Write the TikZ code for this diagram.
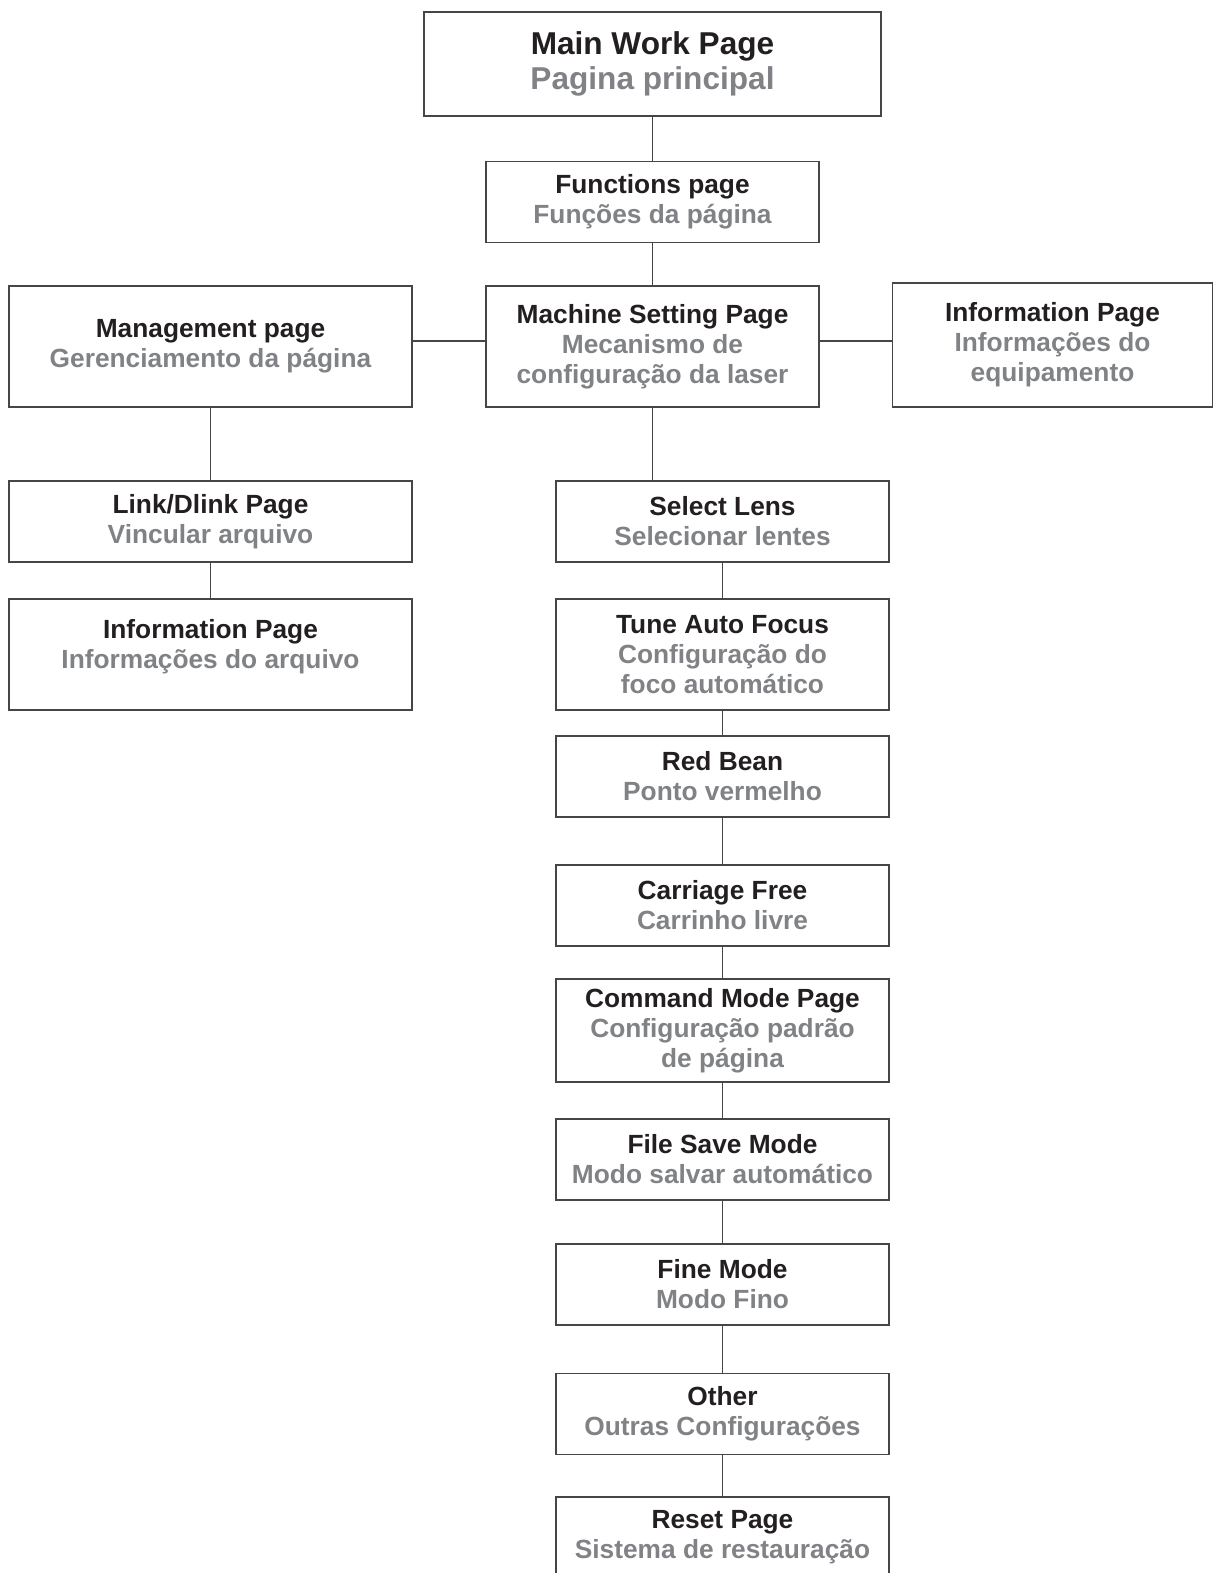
\documentclass[tikz,border=0pt]{standalone}
\usepackage{fontspec}
\setmainfont{Liberation Sans}
\definecolor{inkblack}{RGB}{35,31,32}
\definecolor{subgray}{RGB}{128,130,133}
\definecolor{linegray}{RGB}{70,70,72}
\newcommand{\gr}[1]{\textcolor{subgray}{#1}}

\begin{document}
\begin{tikzpicture}[
  x=0.5pt, y=-0.5pt,
  every node/.style={draw=linegray, line width=0.75pt, align=center, inner sep=0pt, text=inkblack, font=\fontsize{13.15}{15}\selectfont\bfseries},
  narrow/.style={minimum width=166.5pt},
  wide/.style={minimum width=201.5pt},
  single/.style={minimum height=40.5pt},
  tall/.style={minimum height=55.5pt},
  link/.style={draw=linegray, line width=0.75pt}
]
\useasboundingbox (0,0) rectangle (1214,1573);

% top
\node[minimum width=228.5pt, minimum height=52pt, font=\fontsize{15.8}{17.5}\selectfont\bfseries] (main) at (652.5,64) {Main Work Page\\\gr{Pagina principal}};
\node[narrow, single] (func) at (652.5,202) {Functions page\\\gr{Funções da página}};

% second row
\node[wide, minimum height=60.5pt] (mgmt) at (210.5,346.5) {Management page\\\gr{Gerenciamento da página}};
\node[narrow, minimum height=60.5pt] (mach) at (652.5,346.5) {Machine Setting Page\\\gr{Mecanismo de}\\\gr{configuração da laser}};
\node[minimum width=160pt, minimum height=62pt] (infoR) at (1052.5,345) {Information Page\\\gr{Informações do}\\\gr{equipamento}};

% left column
\node[wide, single] (dlink) at (210.5,521.5) {Link/Dlink Page\\\gr{Vincular arquivo}};
\node[wide, tall] (infoL) at (210.5,654.5) {Information Page\\\gr{Informações do arquivo}\\[-4pt]};

% right column
\node[narrow, single] (lens) at (722.5,521.5) {Select Lens\\\gr{Selecionar lentes}};
\node[narrow, tall] (tune) at (722.5,654.5) {Tune Auto Focus\\\gr{Configuração do}\\\gr{foco automático}};
\node[narrow, single] (red) at (722.5,776.5) {Red Bean\\\gr{Ponto vermelho}};
\node[narrow, single] (carr) at (722.5,905.5) {Carriage Free\\\gr{Carrinho livre}};
\node[narrow, minimum height=51.5pt] (cmd) at (722.5,1030.5) {Command Mode Page\\\gr{Configuração padrão}\\\gr{de página}};
\node[narrow, single] (save) at (722.5,1159.5) {File Save Mode\\\gr{Modo salvar automático}};
\node[narrow, single] (fine) at (722.5,1284.5) {Fine Mode\\\gr{Modo Fino}};
\node[narrow, single] (other) at (722.5,1414) {Other\\\gr{Outras Configurações}};
\node[narrow, single] (reset) at (722.5,1537.5) {Reset Page\\\gr{Sistema de restauração}};

% connectors
\draw[link] (main) -- (func);
\draw[link] (func) -- (mach);
\draw[link] ([yshift=2.75pt]mgmt.east) -- ([yshift=2.75pt]mach.west);
\draw[link] ([yshift=2.75pt]mach.east) -- ([yshift=2.75pt]mach.east -| infoR.west);
\draw[link] (mgmt) -- (dlink);
\draw[link] (dlink) -- (infoL);
\draw[link] (mach.south) -- (mach.south |- lens.north);
\draw[link] (lens) -- (tune);
\draw[link] (tune) -- (red);
\draw[link] (red) -- (carr);
\draw[link] (carr) -- (cmd);
\draw[link] (cmd) -- (save);
\draw[link] (save) -- (fine);
\draw[link] (fine) -- (other);
\draw[link] (other) -- (reset);
\end{tikzpicture}
\end{document}
